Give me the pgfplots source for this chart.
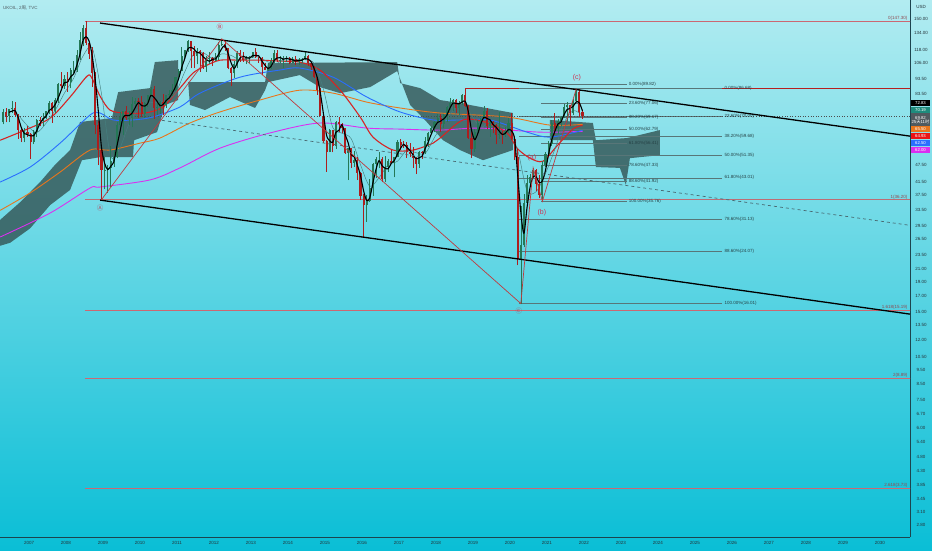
\documentclass[border=0pt]{standalone}
\usepackage{pgfplots}
\pgfplotsset{compat=1.18}
\usepackage{pgfplotstable}
\usepackage{fontspec}
\setmainfont{Liberation Sans}
\newfontfamily\cjk{Noto Sans CJK SC}

\definecolor{bgtop}{RGB}{178,236,241}
\definecolor{bgbot}{RGB}{10,190,214}
\definecolor{candup}{RGB}{36,120,86}
\definecolor{candown}{RGB}{172,30,30}
\definecolor{cloud}{RGB}{52,86,86}
\definecolor{mared}{RGB}{214,36,36}
\definecolor{mablue}{RGB}{41,110,255}
\definecolor{maorange}{RGB}{232,118,28}
\definecolor{mamag}{RGB}{218,48,240}
\definecolor{mateal}{RGB}{70,128,128}
\definecolor{wave}{RGB}{192,58,62}
\definecolor{fibline}{RGB}{88,118,120}
\definecolor{fibtext}{RGB}{38,66,70}
\definecolor{extline}{RGB}{204,104,114}
\definecolor{axisclr}{RGB}{28,68,78}
\definecolor{ticktext}{RGB}{38,52,58}
\definecolor{wavetext}{RGB}{205,52,84}

% monthly candles: time, open, high, low, close
\pgfplotstableread{
t o h l c
2006.292 66.5 74.0 65.5 72.0
2006.375 72.0 74.5 66.5 70.0
2006.458 70.0 74.0 66.5 73.9
2006.542 73.9 78.6 71.5 74.3
2006.625 74.3 78.3 69.4 70.5
2006.708 70.5 71.0 58.5 62.5
2006.792 62.5 63.5 56.9 58.8
2006.875 58.8 63.5 56.8 61.5
2006.958 61.5 64.5 59.5 60.9
2007.042 60.9 61.0 49.9 57.0
2007.125 57.0 62.5 56.0 61.8
2007.208 61.8 68.5 59.5 68.0
2007.292 68.0 69.3 64.5 67.5
2007.375 67.5 71.5 64.5 69.0
2007.458 69.0 73.0 68.5 72.5
2007.542 72.5 78.7 71.0 77.5
2007.625 77.5 77.8 66.3 73.0
2007.708 73.0 80.5 71.5 79.2
2007.792 79.2 91.0 77.5 90.3
2007.875 90.3 98.5 87.0 88.5
2007.958 88.5 96.5 86.5 93.8
2008.042 93.8 98.5 84.5 91.7
2008.125 91.7 102.0 87.0 100.1
2008.208 100.1 108.0 97.0 100.3
2008.292 100.3 118.0 99.0 112.6
2008.375 112.6 135.1 109.0 127.3
2008.458 127.3 143.0 121.0 139.8
2008.542 139.8 147.3 122.0 124.0
2008.625 124.0 124.6 109.5 114.3
2008.708 114.3 120.0 87.7 98.2
2008.792 98.2 98.6 60.5 65.3
2008.875 65.3 67.5 47.5 53.5
2008.958 53.5 54.0 36.2 45.6
2009.042 45.6 50.5 39.3 45.9
2009.125 45.9 47.7 38.2 46.3
2009.208 46.3 55.3 40.0 49.2
2009.292 49.2 53.5 47.0 50.8
2009.375 50.8 66.5 50.2 65.4
2009.458 65.4 72.0 61.3 69.3
2009.542 69.3 73.0 60.0 72.5
2009.625 72.5 75.7 68.0 69.0
2009.708 69.0 73.0 65.0 69.1
2009.792 69.1 81.0 64.0 77.0
2009.875 77.0 80.5 75.0 78.5
2009.958 78.5 80.4 69.0 77.9
2010.042 77.9 82.0 69.5 71.2
2010.125 71.2 78.0 69.0 77.6
2010.208 77.6 82.7 75.0 82.7
2010.292 82.7 88.0 81.0 86.2
2010.375 86.2 88.5 68.5 74.5
2010.458 74.5 79.5 70.5 75.0
2010.542 75.0 78.5 71.0 78.3
2010.625 78.3 83.0 70.5 76.5
2010.708 76.5 82.5 74.5 82.3
2010.792 82.3 85.5 80.0 83.2
2010.875 83.2 89.8 82.0 86.1
2010.958 86.1 94.7 85.0 94.7
2011.042 94.7 101.0 92.5 100.0
2011.125 100.0 120.0 99.5 111.8
2011.208 111.8 118.0 108.5 117.4
2011.292 117.4 127.0 116.0 125.9
2011.375 125.9 126.2 102.3 116.7
2011.458 116.7 121.0 102.0 112.5
2011.542 112.5 119.0 105.0 116.7
2011.625 116.7 118.0 98.7 114.8
2011.708 114.8 116.0 101.5 102.8
2011.792 102.8 112.5 99.0 109.6
2011.875 109.6 115.5 105.5 110.5
2011.958 110.5 111.0 103.5 107.4
2012.042 107.4 114.5 108.0 110.9
2012.125 110.9 125.5 109.0 122.7
2012.208 122.7 128.4 121.0 122.9
2012.292 122.9 126.3 117.0 119.5
2012.375 119.5 119.8 101.0 102.4
2012.458 102.4 102.7 88.5 97.8
2012.542 97.8 108.0 94.0 104.9
2012.625 104.9 117.0 102.0 114.6
2012.708 114.6 117.9 107.0 112.4
2012.792 112.4 115.5 107.0 108.7
2012.875 108.7 112.0 105.0 110.9
2012.958 110.9 112.0 106.5 111.1
2013.042 111.1 116.0 110.5 115.6
2013.125 115.6 119.2 110.8 111.4
2013.208 111.4 111.6 106.5 110.0
2013.292 110.0 111.0 96.8 102.5
2013.375 102.5 106.0 100.5 100.4
2013.458 100.4 106.5 100.0 102.2
2013.542 102.2 110.0 101.5 107.7
2013.625 107.7 117.3 106.0 115.0
2013.708 115.0 117.3 107.0 108.4
2013.792 108.4 112.0 106.4 108.8
2013.875 108.8 112.0 102.0 110.8
2013.958 110.8 112.5 107.0 110.8
2014.042 110.8 110.9 104.9 106.4
2014.125 106.4 111.5 105.8 109.1
2014.208 109.1 112.4 104.5 107.8
2014.292 107.8 110.5 104.5 108.1
2014.375 108.1 110.5 106.2 109.4
2014.458 109.4 115.7 108.5 112.4
2014.542 112.4 112.8 104.0 106.0
2014.625 106.0 106.5 100.6 103.2
2014.708 103.2 103.5 94.2 94.7
2014.792 94.7 95.0 82.6 85.9
2014.875 85.9 87.0 70.2 70.2
2014.958 70.2 72.0 56.5 57.3
2015.042 57.3 58.0 45.2 52.9
2015.125 52.9 63.0 52.5 62.6
2015.208 62.6 62.7 52.5 55.1
2015.292 55.1 67.0 54.0 66.8
2015.375 66.8 69.6 61.6 65.6
2015.458 65.6 66.0 61.0 63.6
2015.542 63.6 63.7 52.0 52.2
2015.625 52.2 54.2 42.2 54.2
2015.708 54.2 54.5 46.5 48.4
2015.792 48.4 53.2 47.0 49.6
2015.875 49.6 50.8 42.2 44.6
2015.958 44.6 44.9 36.0 37.3
2016.042 37.3 38.0 27.1 34.7
2016.125 34.7 37.5 30.4 35.9
2016.208 35.9 42.5 35.5 39.6
2016.292 39.6 48.5 37.4 48.1
2016.375 48.1 50.5 43.0 49.7
2016.458 49.7 52.9 46.3 49.7
2016.542 49.7 50.5 41.5 42.5
2016.625 42.5 51.2 41.5 47.0
2016.708 47.0 49.9 45.0 49.2
2016.792 49.2 53.7 48.5 48.3
2016.875 48.3 50.5 43.2 50.5
2016.958 50.5 57.9 50.5 56.8
2017.042 56.8 58.4 53.6 55.7
2017.125 55.7 57.5 54.5 55.6
2017.208 55.6 56.8 50.3 52.8
2017.292 52.8 56.7 50.5 51.7
2017.375 51.7 55.0 46.6 50.3
2017.458 50.3 50.8 44.3 47.9
2017.542 47.9 53.0 46.5 52.7
2017.625 52.7 53.0 50.0 52.4
2017.708 52.4 59.5 52.0 57.5
2017.792 57.5 61.7 55.0 61.4
2017.875 61.4 64.6 60.5 63.6
2017.958 63.6 67.0 61.5 66.9
2018.042 66.9 71.3 66.0 69.0
2018.125 69.0 71.0 61.8 65.8
2018.208 65.8 71.0 63.5 70.3
2018.292 70.3 75.5 66.6 75.2
2018.375 75.2 80.5 73.5 77.6
2018.458 77.6 80.0 72.7 79.4
2018.542 79.4 79.9 71.8 74.2
2018.625 74.2 78.5 70.3 77.4
2018.708 77.4 83.1 76.1 82.7
2018.792 82.7 86.7 74.8 75.5
2018.875 75.5 76.5 58.4 58.7
2018.958 58.7 63.0 50.2 53.8
2019.042 53.8 63.2 52.5 61.9
2019.125 61.9 67.6 60.0 66.3
2019.208 66.3 69.0 64.5 68.4
2019.292 68.4 75.6 68.2 72.8
2019.375 72.8 74.5 63.3 64.5
2019.458 64.5 67.5 59.5 66.5
2019.542 66.5 67.5 61.0 65.2
2019.625 65.2 65.5 55.9 60.4
2019.708 60.4 71.9 58.5 60.8
2019.792 60.8 62.3 56.2 60.2
2019.875 60.2 64.0 59.5 62.4
2019.958 62.4 68.9 61.2 66.0
2020.042 66.0 71.8 57.9 58.2
2020.125 58.2 59.8 49.5 50.5
2020.208 50.5 53.9 21.6 22.7
2020.292 22.7 34.5 16.0 25.3
2020.375 25.3 37.8 24.9 35.3
2020.458 35.3 43.9 35.0 41.2
2020.542 41.2 44.3 41.0 43.3
2020.625 43.3 46.5 43.0 45.8
2020.708 45.8 46.0 38.8 40.9
2020.792 40.9 43.9 36.6 37.5
2020.875 37.5 49.0 35.8 47.6
2020.958 47.6 52.5 47.0 51.8
2021.042 51.8 57.4 51.3 55.9
2021.125 55.9 67.7 55.3 66.1
2021.208 66.1 71.4 60.3 63.5
2021.292 63.5 68.1 60.9 67.3
2021.375 67.3 70.2 64.6 69.3
2021.458 69.3 76.6 69.0 75.1
2021.542 75.1 78.0 67.4 76.3
2021.625 76.3 76.5 64.6 71.6
2021.708 71.6 80.0 70.5 78.5
2021.792 78.5 86.7 78.0 84.4
2021.875 84.4 86.2 69.5 72.0
2021.958 72.0 73.5 68.5 69.82
}\candles

% fast moving average (black)
\pgfplotstableread{
t v
2006.458 72.0
2006.542 72.7
2006.625 72.9
2006.708 69.1
2006.792 63.9
2006.875 60.9
2006.958 60.4
2007.042 59.8
2007.125 59.9
2007.208 62.3
2007.292 65.8
2007.375 68.2
2007.458 69.7
2007.542 73.0
2007.625 74.3
2007.708 76.6
2007.792 80.8
2007.875 86.0
2007.958 90.9
2008.042 91.3
2008.125 95.2
2008.208 97.4
2008.292 104.3
2008.375 113.4
2008.458 126.6
2008.542 130.4
2008.625 126.0
2008.708 112.2
2008.792 92.6
2008.875 72.3
2008.958 54.8
2009.042 48.3
2009.125 45.9
2009.208 47.1
2009.292 48.8
2009.375 55.1
2009.458 61.8
2009.542 69.1
2009.625 70.3
2009.708 70.2
2009.792 71.7
2009.875 74.9
2009.958 77.8
2010.042 75.9
2010.125 75.6
2010.208 77.2
2010.292 82.2
2010.375 81.1
2010.458 78.6
2010.542 75.9
2010.625 76.6
2010.708 79.0
2010.792 80.7
2010.875 83.9
2010.958 88.0
2011.042 93.6
2011.125 102.2
2011.208 109.7
2011.292 118.4
2011.375 120.0
2011.458 118.4
2011.542 115.3
2011.625 114.7
2011.708 111.4
2011.792 109.1
2011.875 107.6
2011.958 109.2
2012.042 109.6
2012.125 113.7
2012.208 118.8
2012.292 121.7
2012.375 114.9
2012.458 106.6
2012.542 101.7
2012.625 105.8
2012.708 110.6
2012.792 111.9
2012.875 110.7
2012.958 110.2
2013.042 112.5
2013.125 112.7
2013.208 112.3
2013.292 108.0
2013.375 104.3
2013.458 101.7
2013.542 103.4
2013.625 108.3
2013.708 110.4
2013.792 110.7
2013.875 109.3
2013.958 110.1
2014.042 109.3
2014.125 108.8
2014.208 107.8
2014.292 108.3
2014.375 108.4
2014.458 110.0
2014.542 109.3
2014.625 107.2
2014.708 101.3
2014.792 94.6
2014.875 83.6
2014.958 71.1
2015.042 60.1
2015.125 57.6
2015.208 56.9
2015.292 61.5
2015.375 62.5
2015.458 65.3
2015.542 60.5
2015.625 56.7
2015.708 51.6
2015.792 50.7
2015.875 47.5
2015.958 43.8
2016.042 38.9
2016.125 36.0
2016.208 36.7
2016.292 41.2
2016.375 45.8
2016.458 49.2
2016.542 47.3
2016.625 46.4
2016.708 46.2
2016.792 48.2
2016.875 49.3
2016.958 51.9
2017.042 54.3
2017.125 56.0
2017.208 54.7
2017.292 53.4
2017.375 51.6
2017.458 50.0
2017.542 50.3
2017.625 51.0
2017.708 54.2
2017.792 57.1
2017.875 60.8
2017.958 64.0
2018.042 66.5
2018.125 67.2
2018.208 68.4
2018.292 70.4
2018.375 74.4
2018.458 77.4
2018.542 77.1
2018.625 77.0
2018.708 78.1
2018.792 78.5
2018.875 72.3
2018.958 62.7
2019.042 58.1
2019.125 60.7
2019.208 65.5
2019.292 69.2
2019.375 68.6
2019.458 67.9
2019.542 65.4
2019.625 64.0
2019.708 62.1
2019.792 60.5
2019.875 61.1
2019.958 62.9
2020.042 62.2
2020.125 58.2
2020.208 43.8
2020.292 32.8
2020.375 27.8
2020.458 33.9
2020.542 39.9
2020.625 43.4
2020.708 43.3
2020.792 41.4
2020.875 42.0
2020.958 45.6
2021.042 51.8
2021.125 57.9
2021.208 61.8
2021.292 65.6
2021.375 66.7
2021.458 70.6
2021.542 73.6
2021.625 74.3
2021.708 75.5
2021.792 78.2
2021.875 77.5
2021.958 72.83
}\mablack

\pgfplotstableread{
t v
2006.708 70.5
2006.958 64.8
2007.208 61.4
2007.458 66.0
2007.708 73.2
2007.958 83.8
2008.208 94.2
2008.458 112.0
2008.708 119.4
2008.958 83.5
2009.208 51.0
2009.458 54.5
2009.708 66.0
2009.958 74.0
2010.208 77.5
2010.458 77.9
2010.708 78.8
2010.958 83.5
2011.208 98.9
2011.458 114.0
2011.708 114.9
2011.958 110.3
2012.208 114.0
2012.458 112.7
2012.708 108.6
2012.958 110.4
2013.208 111.3
2013.458 107.0
2013.708 106.0
2013.958 110.3
2014.208 109.0
2014.458 108.9
2014.708 105.7
2014.958 86.2
2015.208 64.0
2015.458 61.1
2015.708 58.5
2015.958 47.7
2016.208 40.3
2016.458 43.0
2016.708 47.7
2016.958 49.0
2017.208 53.3
2017.458 52.4
2017.708 52.1
2017.958 59.1
2018.208 66.2
2018.458 72.9
2018.708 77.8
2018.958 70.4
2019.208 64.1
2019.458 66.7
2019.708 65.0
2019.958 62.5
2020.208 53.4
2020.458 38.9
2020.708 38.6
2020.958 44.5
2021.208 53.7
2021.458 66.2
2021.708 73.0
2021.958 70.19
}\mateal

\pgfplotstableread{
t v
2006.22 57.8
2006.89 62.6
2007.57 68.8
2008.11 81.2
2008.57 95.7
2008.70 94.2
2008.92 81.8
2009.19 73.3
2009.59 71.6
2010.13 71.6
2010.62 75.1
2011.08 87.1
2011.43 98.0
2011.76 103.6
2012.16 108.5
2012.70 108.5
2013.24 108.5
2013.78 107.7
2014.32 106.9
2014.86 100.4
2015.41 85.7
2015.95 69.4
2016.30 59.2
2016.84 53.5
2017.38 53.5
2017.92 56.5
2018.11 58.8
2018.73 67.8
2019.32 66.7
2019.92 61.2
2020.19 54.3
2020.54 50.2
2020.89 49.0
2021.27 55.3
2021.70 63.1
2021.96 64.93
}\mared

\pgfplotstableread{
t v
2006.22 41.6
2007.03 46.8
2007.84 56.5
2008.65 70.5
2008.92 71.6
2009.27 67.8
2009.81 67.8
2010.35 69.4
2011.08 75.1
2011.62 83.7
2012.70 94.9
2013.78 100.4
2014.32 102.0
2015.22 94.9
2016.13 81.2
2017.03 72.2
2017.92 67.8
2018.65 67.8
2019.46 67.8
2020.46 61.6
2021.08 59.2
2021.96 62.50
}\mablue

\pgfplotstableread{
t v
2006.22 33.3
2007.03 38.2
2007.84 45.0
2008.65 53.5
2009.19 53.5
2010.00 56.5
2010.54 58.8
2011.35 66.2
2012.16 72.2
2013.24 79.3
2014.32 85.7
2015.22 83.7
2016.13 78.0
2017.03 74.5
2018.11 71.6
2019.92 69.4
2021.08 65.1
2021.96 65.50
}\maorange

\pgfplotstableread{
t v
2006.22 27.0
2007.57 32.6
2008.65 39.7
2008.92 40.0
2010.27 42.3
2011.08 46.5
2012.16 54.3
2013.51 61.2
2014.86 66.2
2016.13 63.6
2017.03 63.1
2018.11 62.6
2019.19 63.6
2020.81 61.6
2021.96 62.00
}\mamag

\begin{document}
\begin{tikzpicture}
\shade[top color=bgtop, bottom color=bgbot] (0,0) rectangle (932pt,550pt);
\useasboundingbox (0,0) rectangle (932pt,550pt);
\begin{axis}[
  at={(0pt,13pt)}, anchor=south west,
  scale only axis, width=910pt, height=537pt,
  xmin=2006.216, xmax=2030.81,
  ymode=log, ymin=2.55, ymax=174.2,
  axis x line*=bottom, axis y line*=right,
  axis line style={draw=axisclr, line width=0.7pt, -},
  yticklabel pos=right,
  major tick length=0pt, minor tick length=0pt,
  ytick={2.8,3.1,3.45,3.85,4.3,4.8,5.4,6,6.7,7.5,8.5,9.5,10.5,12,13.5,15,17,19,21,23.5,26.5,29.5,33.5,37.5,41.5,47.5,83.5,93.5,106,118,134,150},
  yticklabels={2.80,3.10,3.45,3.85,4.30,4.80,5.40,6.00,6.70,7.50,8.50,9.50,10.50,12.00,13.50,15.00,17.00,19.00,21.00,23.50,26.50,29.50,33.50,37.50,41.50,47.50,83.50,93.50,106.00,118.00,134.00,150.00},
  xtick={2007,...,2030},
  xticklabels={2007,2008,2009,2010,2011,2012,2013,2014,2015,2016,2017,2018,2019,2020,2021,2022,2023,2024,2025,2026,2027,2028,2029,2030},
  ticklabel style={font=\fontsize{4.5}{5}\selectfont, text=ticktext},
  yticklabel style={anchor=center, xshift=11pt},
  xticklabel style={anchor=center, yshift=-6pt},
]
% Ichimoku cloud
\addplot[draw=none, fill=cloud, fill opacity=0.82, forget plot] coordinates {
 (2006.22,30.9) (2006.76,35.5) (2007.30,41.6) (2007.70,47.6) (2008.11,53.5) (2008.38,66.7)
 (2009.24,68.8) (2009.41,84.4) (2010.27,87.1) (2010.40,106.9) (2011.03,108.5)
 (2011.03,79.3) (2010.68,76.3) (2010.46,61.6) (2009.84,57.8) (2009.81,50.6) (2008.92,50.6)
 (2008.43,49.4) (2008.11,39.1) (2007.57,34.7) (2007.03,28.9) (2006.49,25.8) (2006.22,25.2)};
\addplot[draw=none, fill=cloud, fill opacity=0.82, forget plot] coordinates {
 (2011.30,91.3) (2013.38,91.3) (2013.46,106.0) (2016.95,106.9) (2017.03,90.6) (2017.57,87.1)
 (2018.11,79.3) (2018.65,77.4) (2020.08,71.6)
 (2020.08,53.5) (2019.27,49.4) (2018.65,53.5) (2018.19,57.8) (2017.70,67.8) (2017.30,76.3)
 (2016.95,99.6) (2016.22,87.8) (2015.41,83.7) (2014.86,87.8) (2014.32,96.5) (2013.46,91.3)
 (2013.38,85.7) (2013.11,74.5) (2012.43,81.2) (2011.76,73.3) (2011.35,76.3)};
\addplot[draw=none, fill=cloud, fill opacity=0.82, forget plot] coordinates {
 (2021.08,67.8) (2022.24,66.2) (2022.32,57.8) (2023.16,58.8) (2024.05,62.6)
 (2024.05,51.4) (2023.24,50.2) (2023.13,40.7) (2022.97,46.5) (2022.32,46.8)
 (2022.24,57.8) (2021.08,57.8)};

% Fibonacci extension of the 2008 fall
\addplot[extline, line width=0.6pt, forget plot] coordinates {(2008.51,147.3) (2031,147.3)};
\addplot[extline!80!gray, line width=0.6pt, forget plot] coordinates {(2008.51,36.2) (2031,36.2)};
\addplot[extline, line width=0.6pt, forget plot] coordinates {(2008.51,15.19) (2031,15.19)};
\addplot[extline, line width=0.6pt, forget plot] coordinates {(2008.51,8.89) (2031,8.89)};
\addplot[extline, line width=0.6pt, forget plot] coordinates {(2008.51,3.73) (2031,3.73)};
\addplot[mared!85!black, line width=0.9pt, forget plot] coordinates {(2018.78,86.68) (2031,86.68)};

% retracements
\foreach \v in {89.82,77.06,69.17,62.79,56.41,47.33,41.92,35.76}{
  \edef\tmp{\noexpand\addplot[fibline, line width=0.55pt, forget plot] coordinates {(2020.84,\v) (2023.16,\v)};}\tmp}
\foreach \v in {86.68,70.00,59.68,51.35,43.01,31.13,24.07,16.01}{
  \edef\tmp{\noexpand\addplot[fibline, line width=0.55pt, forget plot] coordinates {(2020.24,\v) (2025.73,\v)};}\tmp}

% last price line
\addplot[black!70, dotted, line width=0.6pt, forget plot] coordinates {(2006.2,69.82) (2031,69.82)};

% moving averages
\addplot[mamag, line width=0.9pt, smooth, forget plot] table[x=t,y=v] {\mamag};
\addplot[maorange, line width=0.9pt, smooth, forget plot] table[x=t,y=v] {\maorange};
\addplot[mablue, line width=0.9pt, smooth, forget plot] table[x=t,y=v] {\mablue};
\addplot[mared, line width=1.1pt, smooth, forget plot] table[x=t,y=v] {\mared};
\addplot[mateal, line width=0.45pt, smooth, forget plot] table[x=t,y=v] {\mateal};

% candles
\pgfplotstablegetrowsof{\candles}
\pgfmathtruncatemacro\lastrow{\pgfplotsretval-1}
\pgfplotsforeachungrouped \i in {0,...,\lastrow}{%
  \pgfplotstablegetelem{\i}{t}\of\candles \let\cT\pgfplotsretval
  \pgfplotstablegetelem{\i}{o}\of\candles \let\cO\pgfplotsretval
  \pgfplotstablegetelem{\i}{h}\of\candles \let\cH\pgfplotsretval
  \pgfplotstablegetelem{\i}{l}\of\candles \let\cL\pgfplotsretval
  \pgfplotstablegetelem{\i}{c}\of\candles \let\cC\pgfplotsretval
  \ifdim\cC pt<\cO pt \def\cclr{candown}\else\def\cclr{candup}\fi
  \edef\doplot{%
    \noexpand\addplot[\cclr, line width=0.45pt, forget plot] coordinates {(\cT,\cL) (\cT,\cH)};%
    \noexpand\addplot[\cclr, line width=2.1pt, forget plot] coordinates {(\cT,\cO) (\cT,\cC)};%
  }\doplot
}

\addplot[black, line width=1.1pt, smooth, forget plot] table[x=t,y=v] {\mablack};

% channel
\addplot[black, line width=1.3pt, forget plot] coordinates {(2008.92,145.3) (2030.81,59.7)};
\addplot[black, line width=1.3pt, forget plot] coordinates {(2008.92,36.1) (2030.81,14.72)};
\addplot[axisclr!80, dashed, dash pattern=on 3pt off 3pt, line width=0.7pt, forget plot] coordinates {(2010.27,68.5) (2030.81,29.6)};

% waves
\addplot[wave, line width=0.7pt, forget plot] coordinates {(2008.958,36.2) (2012.208,128.4) (2020.292,16.0) (2020.625,46.5) (2020.875,35.76) (2021.792,86.7)};

% labels
\begin{scope}[font=\fontsize{4.5}{5}\selectfont, text=fibtext, inner sep=0.6pt]
\node[anchor=west] at (axis cs:2023.19,89.82) {0.00\%(89.82)};
\node[anchor=west] at (axis cs:2023.19,77.06) {23.60\%(77.06)};
\node[anchor=west] at (axis cs:2023.19,69.17) {38.20\%(69.17)};
\node[anchor=west] at (axis cs:2023.19,62.79) {50.00\%(62.79)};
\node[anchor=west] at (axis cs:2023.19,56.41) {61.80\%(56.41)};
\node[anchor=west] at (axis cs:2023.19,47.33) {78.60\%(47.33)};
\node[anchor=west] at (axis cs:2023.19,41.92) {88.60\%(41.92)};
\node[anchor=west] at (axis cs:2023.19,35.76) {100.00\%(35.76)};
\node[anchor=west] at (axis cs:2025.78,86.68) {0.00\%(86.68)};
\node[anchor=west] at (axis cs:2025.78,70.00) {23.60\%(70.00)};
\node[anchor=west] at (axis cs:2025.78,59.68) {38.20\%(59.68)};
\node[anchor=west] at (axis cs:2025.78,51.35) {50.00\%(51.35)};
\node[anchor=west] at (axis cs:2025.78,43.01) {61.80\%(43.01)};
\node[anchor=west] at (axis cs:2025.78,31.13) {78.60\%(31.13)};
\node[anchor=west] at (axis cs:2025.78,24.07) {88.60\%(24.07)};
\node[anchor=west] at (axis cs:2025.78,16.01) {100.00\%(16.01)};
\end{scope}
\begin{scope}[font=\fontsize{4.5}{5}\selectfont, text=extline!70!black, inner sep=0.6pt]
\node[anchor=south east] at (axis cs:2030.76,147.3) {0(147.30)};
\node[anchor=south east] at (axis cs:2030.76,36.2) {1(36.20)};
\node[anchor=south east] at (axis cs:2030.76,15.19) {1.618(15.19)};
\node[anchor=south east] at (axis cs:2030.76,8.89) {2(8.89)};
\node[anchor=south east] at (axis cs:2030.76,3.73) {2.618(3.73)};
\end{scope}
\begin{scope}[text=wavetext, inner sep=0pt]
\node[font=\cjk\fontsize{6.5}{6.5}\selectfont, text=wavetext!70!gray] at (axis cs:2008.92,33.9) {Ⓐ};
\node[font=\cjk\fontsize{6.5}{6.5}\selectfont] at (axis cs:2012.16,140.8) {Ⓑ};
\node[font=\cjk\fontsize{6.5}{6.5}\selectfont, text=wavetext!70!gray] at (axis cs:2020.24,15.1) {Ⓒ};
\node[font=\fontsize{7}{7}\selectfont] at (axis cs:2020.59,50.2) {(a)};
\node[font=\fontsize{7}{7}\selectfont] at (axis cs:2020.86,32.6) {(b)};
\node[font=\fontsize{7}{7}\selectfont] at (axis cs:2021.81,94.9) {(c)};
\end{scope}
\end{axis}
% header and price tags
\node[anchor=west, font=\fontsize{4.5}{5}\selectfont, text=ticktext!80, inner sep=0] at (3pt,542pt) {UKOIL, 2{\cjk 周}, TVC};
\node[font=\fontsize{4.5}{5}\selectfont, text=ticktext, inner sep=0] at (921pt,543pt) {USD};
\begin{scope}[every node/.style={font=\fontsize{4.3}{5}\selectfont, text=white, inner sep=0, minimum width=19pt, minimum height=6.6pt}]
\node[fill=black] at (920.5pt,447pt) {72.83};
\node[fill={rgb,255:red,30;green,140;blue,125}] at (920.5pt,440pt) {70.19};
\node[fill={rgb,255:red,80;green,90;blue,95}, minimum height=13pt, align=center] at (920.5pt,430pt) {69.82\\[-0.6pt]25{\cjk 天}11{\cjk 时}};
\node[fill=maorange] at (920.5pt,421pt) {65.50};
\node[fill={rgb,255:red,235;green,20;blue,20}] at (920.5pt,414pt) {64.93};
\node[fill=mablue] at (920.5pt,407pt) {62.50};
\node[fill=mamag] at (920.5pt,400pt) {62.00};
\end{scope}
\end{tikzpicture}
\end{document}
